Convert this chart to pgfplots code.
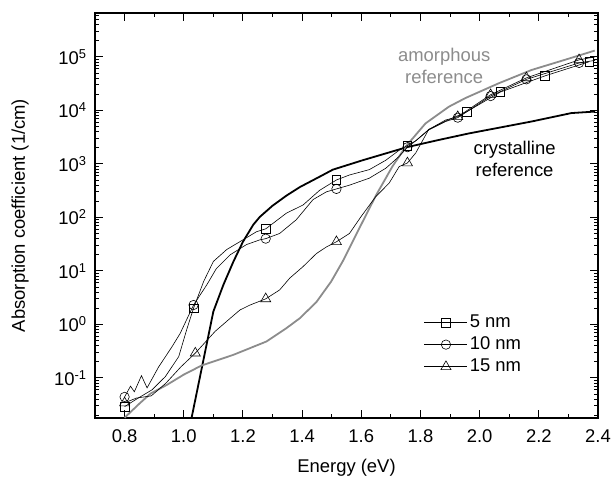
\documentclass[border=0pt]{standalone}
\usepackage{fontspec}
\setmainfont{Liberation Sans}
\usepackage{pgfplots}
\pgfplotsset{compat=1.18}
\definecolor{amgray}{RGB}{140,140,140}
\begin{document}
\fontsize{18.5}{22}\selectfont
\begin{tikzpicture}[font=\fontsize{18.5}{22}\selectfont]
\begin{axis}[
  scale only axis, width=503bp, height=405bp,
  xmin=0.7, xmax=2.4,
  ymode=log, ymin=0.01778, ymax=660693,
  axis line style={line width=1.2bp},
  tick align=inside,
  major tick length=8bp, minor tick length=4bp,
  every tick/.style={line width=0.9bp, black},
  xtick={0.8,1.0,1.2,1.4,1.6,1.8,2.0,2.2,2.4},
  xticklabels={0.8,1.0,1.2,1.4,1.6,1.8,2.0,2.2,2.4},
  minor xtick={0.7,0.9,1.1,1.3,1.5,1.7,1.9,2.1,2.3},
  ytick={0.1,1,10,100,1000,10000,100000},
  yticklabels={10\textsuperscript{-1},10\textsuperscript{0},10\textsuperscript{1},10\textsuperscript{2},10\textsuperscript{3},10\textsuperscript{4},10\textsuperscript{5}},
  minor ytick={0.02,0.03,0.04,0.05,0.06,0.07,0.08,0.09,
    0.2,0.3,0.4,0.5,0.6,0.7,0.8,0.9,
    2,3,4,5,6,7,8,9,
    20,30,40,50,60,70,80,90,
    200,300,400,500,600,700,800,900,
    2000,3000,4000,5000,6000,7000,8000,9000,
    20000,30000,40000,50000,60000,70000,80000,90000,
    200000,300000,400000,500000,600000},
  xticklabel style={yshift=-5bp},
  yticklabel style={xshift=-2bp},
  xlabel={Energy (eV)},
  ylabel={Absorption coefficient (1/cm)},
  xlabel style={at={(axis description cs:0.5,-0.123)}, anchor=center},
  ylabel style={at={(axis description cs:-0.149,0.5)}, anchor=center},
  legend style={draw=none, fill=none, at={(axis description cs:0.654,0.26)}, anchor=north west,
    inner sep=0pt, row sep=2.5bp, cells={anchor=west}},
  legend image code/.code={\draw[#1,mark indices={2}] plot coordinates {(0bp,0bp) (21.5bp,0bp) (43bp,0bp)};},
]
% crystalline reference
\addplot[black, line width=1.8bp, forget plot] coordinates {
(1.02,0.012) (1.10,1.74) (1.134,5.5) (1.168,15) (1.20,35) (1.235,73) (1.257,102)
(1.30,165) (1.347,255) (1.393,370) (1.459,575) (1.504,780) (1.605,1170) (1.754,2050)
(1.862,2800) (1.963,3700) (2.176,6200) (2.31,8900) (2.39,9500)
};
% amorphous reference
\addplot[amgray, line width=1.8bp, forget plot] coordinates {
(0.80,0.018) (0.85,0.033) (0.888,0.051) (0.943,0.074) (1.0,0.115) (1.06,0.17) (1.168,0.27)
(1.28,0.48) (1.347,0.85) (1.392,1.3) (1.448,2.6) (1.498,6.3) (1.537,15) (1.593,62)
(1.65,260) (1.705,890) (1.75,2100) (1.817,5700) (1.896,11700) (1.952,17000) (2.064,32000)
(2.176,57000) (2.288,88000) (2.389,131000)
};
% 5 nm
\addplot[black, line width=0.6bp, mark=square, mark size=4.3bp, mark options={fill=white, line width=0.6bp},
  mark indices={1,7,13,17,22,26,27,28,29}] coordinates {
(0.800,0.029) (0.84,0.040) (0.893,0.060) (0.938,0.106) (0.983,0.25) (1.010,0.8)
(1.033,2.0) (1.067,6.3) (1.10,15) (1.145,25) (1.20,38) (1.246,54)
(1.277,61) (1.347,120) (1.403,170) (1.459,320)
(1.516,500) (1.56,620) (1.627,780) (1.683,1170) (1.728,1800)
(1.756,2200) (1.784,2700) (1.828,4400) (1.885,6300)
(1.956,9400) (2.07,22000) (2.22,44000) (2.37,81000)
};
\addlegendentry{5 nm}
% 10 nm
\addplot[black, line width=0.6bp, mark=o, mark size=4.7bp, mark options={fill=white, line width=0.6bp},
  mark indices={1,9,15,20,25,29,30,31,32}] coordinates {
(0.800,0.044) (0.820,0.070) (0.833,0.055) (0.857,0.11) (0.876,0.065) (0.915,0.16) (0.960,0.38) (0.988,0.68)
(1.033,2.3) (1.078,5.5) (1.11,11) (1.157,20) (1.212,31) (1.257,38)
(1.277,40) (1.324,50) (1.38,90) (1.437,215) (1.482,300)
(1.516,340) (1.56,400) (1.627,540) (1.683,830) (1.728,1380)
(1.756,2050) (1.784,2700) (1.828,4300) (1.885,6200)
(1.926,7300) (2.037,18500) (2.158,38000) (2.336,77000) (2.39,86000)
};
\addlegendentry{10 nm}
% 15 nm
\addplot[black, line width=0.6bp, mark=triangle, mark size=5.8bp, mark options={fill=white, line width=0.6bp},
  mark indices={1,6,11,17,23,27,28,29,30}] coordinates {
(0.800,0.034) (0.84,0.042) (0.89,0.046) (0.94,0.08) (0.99,0.16)
(1.039,0.29) (1.106,0.74) (1.157,1.3) (1.19,1.86) (1.224,2.3)
(1.277,3.0) (1.324,4.4) (1.358,7.3) (1.403,12) (1.448,21) (1.482,28)
(1.516,35) (1.56,50) (1.599,103) (1.649,245) (1.694,435) (1.728,890)
(1.756,1040) (1.784,1600) (1.828,4400) (1.885,6600)
(1.926,7600) (2.037,19600) (2.158,40500) (2.336,88000) (2.39,100000)
};
\addlegendentry{15 nm}
\node[align=center, text=amgray] at (axis cs:1.88,68000) {amorphous\\reference};
\node[align=center, text=black] at (axis cs:2.118,1230) {crystalline\\reference};
\end{axis}
\pgfresetboundingbox
\useasboundingbox (-95bp,-60bp) rectangle (516bp,418bp);
\end{tikzpicture}
\end{document}
